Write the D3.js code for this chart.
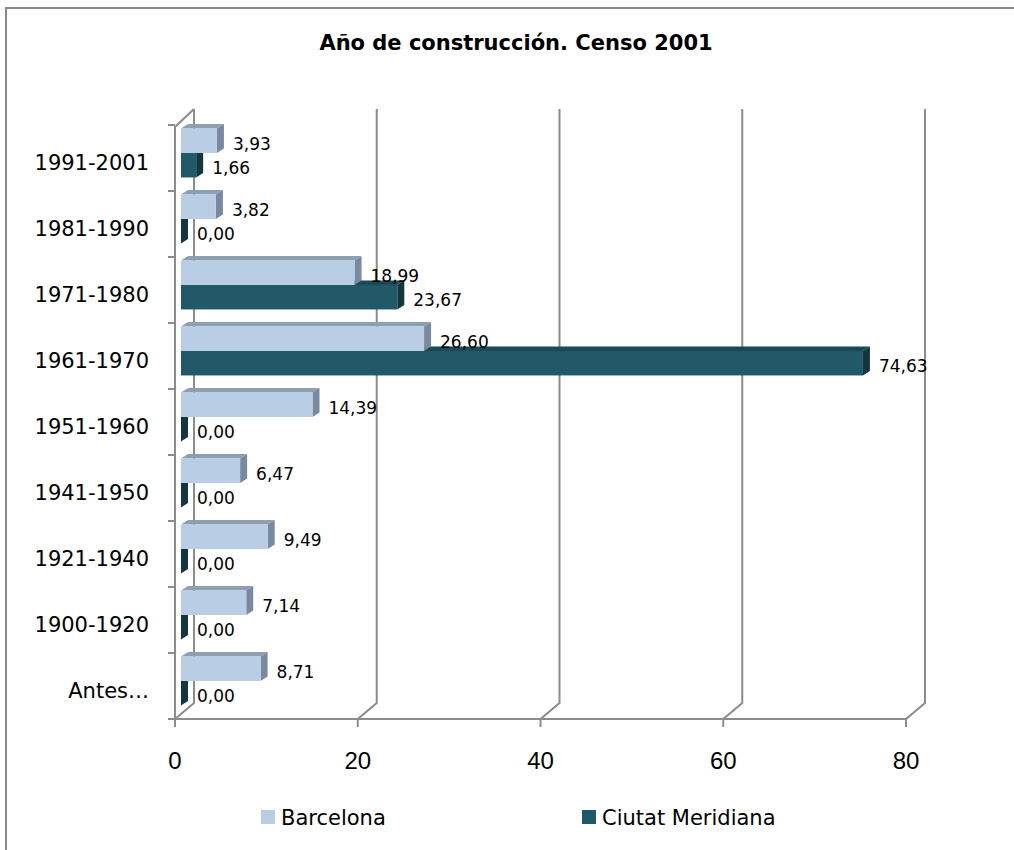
<!DOCTYPE html>
<html>
<head>
<meta charset="utf-8">
<script src="https://cdn.jsdelivr.net/npm/d3@7"></script>
<style>
    body { margin: 0; background: #ffffff; }
    text { font-family: "DejaVu Sans", sans-serif; fill: #000000; }
</style>
</head>
<body>
<svg id="chart" width="1014" height="850"></svg>
<script>
const categories = ["1991-2001", "1981-1990", "1971-1980", "1961-1970", "1951-1960",
    "1941-1950", "1921-1940", "1900-1920", "Antes…"];
const barcelona = [3.93, 3.82, 18.99, 26.60, 14.39, 6.47, 9.49, 7.14, 8.71];
const ciutatMeridiana = [1.66, 0.00, 23.67, 74.63, 0.00, 0.00, 0.00, 0.00, 0.00];
const seriesNames = ["Barcelona", "Ciutat Meridiana"];
const xTicks = [0, 20, 40, 60, 80];
const titleText = "Año de construcción. Censo 2001";

let svg = d3.select("svg#chart");

// outer chart frame
svg.append("rect")
    .attr("x", 6).attr("y", 8)
    .attr("width", 1020).attr("height", 860)
    .attr("fill", "none")
    .attr("stroke", "#898989")
    .attr("stroke-width", 2);

svg.append("text")
    .attr("x", 516).attr("y", 50)
    .attr("text-anchor", "middle")
    .style("font-size", "21px")
    .style("font-weight", "bold")
    .text(titleText);

// 3d box geometry
let frontLeft = 175, frontRight = 906;
let plotTop = 125, plotBottom = 719;
let wallDx = 19, wallDy = -16;      // depth offset of the back wall
let barDx = 7, barDy = -4.5;        // depth of each bar
let barShiftX = 6, barShiftY = -5;  // bars sit a bit behind the front plane

let xScale = d3.scaleLinear().domain([0, 80]).range([frontLeft, frontRight]);
let yScale = d3.scaleBand().domain(categories).range([plotTop, plotBottom]);
let innerScale = d3.scaleBand().domain(seriesNames)
    .range([0, yScale.bandwidth()]).paddingInner(0).paddingOuter(0.35);

let gridColor = "#8c8c8c";

// back wall gridlines + floor diagonals
xTicks.forEach(function (t) {
    let fx = xScale(t);
    svg.append("polyline")
        .attr("points", [
            [fx + wallDx, plotTop + wallDy],
            [fx + wallDx, plotBottom + wallDy],
            [fx, plotBottom]
        ].join(" "))
        .attr("fill", "none")
        .attr("stroke", gridColor)
        .attr("stroke-width", 2);
});

// left wall front edge with top diagonal
svg.append("polyline")
    .attr("points", [
        [frontLeft + wallDx, plotTop + wallDy],
        [frontLeft, plotTop + 2],
        [frontLeft, plotBottom]
    ].join(" "))
    .attr("fill", "none")
    .attr("stroke", gridColor)
    .attr("stroke-width", 2);

// floor front edge
svg.append("line")
    .attr("x1", frontLeft).attr("x2", frontRight)
    .attr("y1", plotBottom).attr("y2", plotBottom)
    .attr("stroke", gridColor).attr("stroke-width", 2);

// category ticks
let catBounds = categories.map(c => yScale(c)).concat([plotBottom]);
catBounds.forEach(function (y) {
    svg.append("line")
        .attr("x1", frontLeft - 7).attr("x2", frontLeft)
        .attr("y1", y).attr("y2", y)
        .attr("stroke", gridColor).attr("stroke-width", 2);
});

// value ticks
xTicks.forEach(function (t) {
    svg.append("line")
        .attr("x1", xScale(t)).attr("x2", xScale(t))
        .attr("y1", plotBottom).attr("y2", plotBottom + 8)
        .attr("stroke", gridColor).attr("stroke-width", 2);
    svg.append("text")
        .attr("x", xScale(t)).attr("y", 769)
        .attr("text-anchor", "middle")
        .style("font-family", "'Liberation Sans', sans-serif")
        .style("font-size", "24px")
        .text(t);
});

svg.selectAll("text.catLabel")
    .data(categories)
    .enter().append("text")
    .attr("class", "catLabel")
    .attr("x", 149)
    .attr("y", d => yScale(d) + yScale.bandwidth() / 2 + 12)
    .attr("text-anchor", "end")
    .style("font-size", "21px")
    .text(d => d);

// bars
let seriesColors = {
    "Barcelona": { front: "#b9cde5", top: "#8e9fb4", side: "#7889a0" },
    "Ciutat Meridiana": { front: "#215968", top: "#1b4955", side: "#15363f" }
};
let seriesValues = { "Barcelona": barcelona, "Ciutat Meridiana": ciutatMeridiana };

let barList = [];
categories.forEach(function (cat, i) {
    seriesNames.forEach(function (s) {
        barList.push({ cat: cat, series: s, value: seriesValues[s][i] });
    });
});

let zeroX = xScale(0) + barShiftX;
let unit = xScale(1) - xScale(0);

function barGeom(d) {
    let x0 = zeroX;
    let w = d.value * unit;
    let y0 = yScale(d.cat) + barShiftY + innerScale(d.series);
    let h = innerScale.bandwidth();
    return { x0: x0, w: w, y0: y0, h: h };
}

// paint lower bars first so the upper bar covers the top face below
let paintOrder = barList.slice().reverse();
let barGroup = svg.append("g");
paintOrder.forEach(function (d) {
    let g = barGeom(d);
    let c = seriesColors[d.series];
    barGroup.append("polygon")
        .attr("points", [
            [g.x0, g.y0], [g.x0 + g.w, g.y0],
            [g.x0 + g.w + barDx, g.y0 + barDy], [g.x0 + barDx, g.y0 + barDy]
        ].join(" "))
        .attr("fill", c.top);
    barGroup.append("polygon")
        .attr("points", [
            [g.x0 + g.w, g.y0], [g.x0 + g.w + barDx, g.y0 + barDy],
            [g.x0 + g.w + barDx, g.y0 + g.h + barDy], [g.x0 + g.w, g.y0 + g.h]
        ].join(" "))
        .attr("fill", c.side);
    barGroup.append("rect")
        .attr("x", g.x0).attr("y", g.y0)
        .attr("width", g.w).attr("height", g.h)
        .attr("fill", c.front);
});

// data labels
let esLocale = d3.formatLocale({ decimal: ",", thousands: ".", grouping: [3], currency: ["", " €"] });
let fmt = esLocale.format(".2f");

barList.forEach(function (d) {
    let g = barGeom(d);
    svg.append("text")
        .attr("x", g.x0 + g.w + barDx + 9)
        .attr("y", g.y0 + g.h / 2 + 9)
        .style("font-size", "17px")
        .text(fmt(d.value));
});

// legend
let legendItems = [
    { name: seriesNames[0], x: 261 },
    { name: seriesNames[1], x: 582 }
];
legendItems.forEach(function (item) {
    svg.append("rect")
        .attr("x", item.x).attr("y", 810)
        .attr("width", 14).attr("height", 14)
        .attr("fill", seriesColors[item.name].front);
    svg.append("text")
        .attr("x", item.x + 20).attr("y", 825)
        .style("font-size", "21px")
        .text(item.name);
});
</script>
</body>
</html>
